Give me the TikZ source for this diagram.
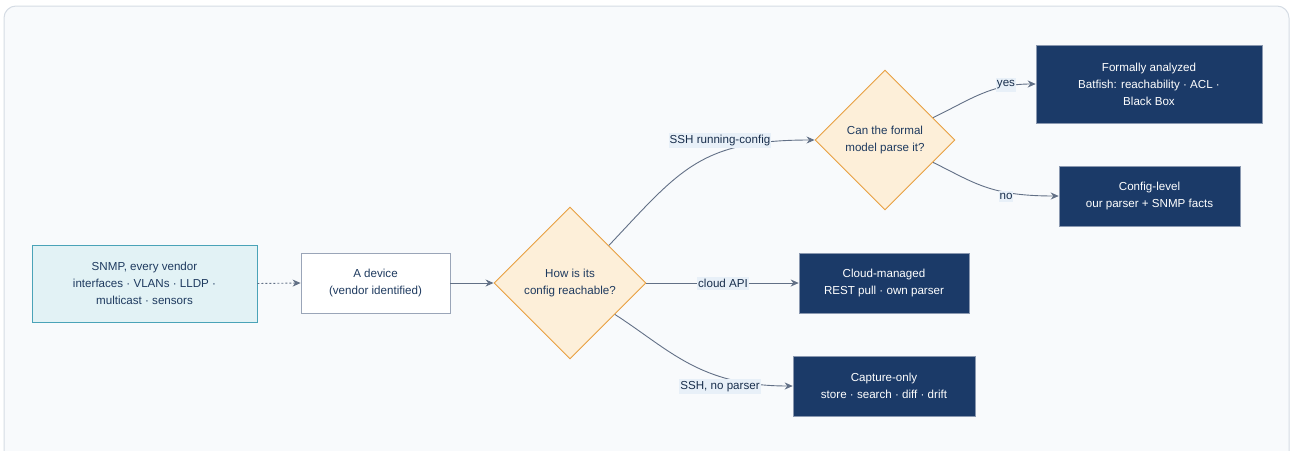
\documentclass[tikz,border=0pt]{standalone}
\usepackage{fontspec}
\setmainfont{Liberation Sans}
\usetikzlibrary{shapes.geometric,arrows.meta}
\definecolor{framefill}{HTML}{F8FAFC}
\definecolor{frameline}{HTML}{D5DCE4}
\definecolor{snmpfill}{HTML}{E2F2F5}
\definecolor{snmpline}{HTML}{4AA3B8}
\definecolor{devline}{HTML}{9AA5B8}
\definecolor{diafill}{HTML}{FDEFD9}
\definecolor{dialine}{HTML}{E8A040}
\definecolor{darkfill}{HTML}{1B3A68}
\definecolor{darkline}{HTML}{8A98B0}
\definecolor{edgecol}{HTML}{627086}
\definecolor{lblbg}{HTML}{E8F0F8}
\definecolor{txtdark}{HTML}{1E3A5F}
\tikzset{
  base/.style={align=center, inner sep=0pt, font=\fontsize{11.6}{17}\selectfont},
  lightbox/.style={base, rectangle, draw=devline, fill=white, text=txtdark, line width=0.8pt},
  snmpbox/.style={base, rectangle, draw=snmpline, fill=snmpfill, text=txtdark, line width=0.9pt},
  darkbox/.style={base, rectangle, draw=darkline, fill=darkfill, text=white, line width=0.6pt},
  decision/.style={base, diamond, aspect=1, draw=dialine, fill=diafill, text=txtdark, line width=0.9pt},
  conn/.style={draw=edgecol, line width=0.9pt, -{Stealth[length=8pt,width=7pt]}},
  lbl/.style={base, fill=lblbg, text=txtdark!80!black, inner xsep=1pt, inner ysep=2.5pt},
}
\begin{document}
\begin{tikzpicture}[x=1pt,y=-1pt]
\useasboundingbox (0,0) rectangle (1290,450);
\begin{scope}
\clip (0,0) rectangle (1290,450);
\draw[draw=frameline, fill=framefill, line width=1pt, rounded corners=12pt] (4,6) rectangle (1289,470);
\end{scope}

\node[snmpbox, minimum width=225pt, minimum height=77pt] (snmp) at (144.5,283.5) {SNMP, every vendor\\interfaces · VLANs · LLDP ·\\multicast · sensors};
\node[lightbox, minimum width=149pt, minimum height=60pt] (dev) at (375.5,283) {A device\\(vendor identified)};
\node[decision, minimum width=152pt, minimum height=152pt] (d1) at (570,283) {How is its\\config reachable?};
\node[decision, minimum width=140pt, minimum height=140pt] (d2) at (885,140) {Can the formal\\model parse it?};
\node[darkbox, minimum width=226pt, minimum height=78pt] (fa) at (1149,84) {Formally analyzed\\Batfish: reachability · ACL ·\\Black Box};
\node[darkbox, minimum width=181pt, minimum height=60pt] (cl) at (1149.5,196) {Config-level\\our parser + SNMP facts};
\node[darkbox, minimum width=170pt, minimum height=60pt] (cm) at (884,283) {Cloud-managed\\REST pull · own parser};
\node[darkbox, minimum width=182pt, minimum height=60pt] (co) at (884,386) {Capture-only\\store · search · diff · drift};

\draw[conn, dash pattern=on 2pt off 2pt] (snmp.east) -- (dev.west);
\draw[conn] (dev.east) -- (d1.west);
\draw[conn] (d1.44) .. controls (680,170) and (700,140) .. (d2.west);
\draw[conn] (d1.east) -- (cm.west);
\draw[conn] (d1.-35) .. controls (670,350) and (700,386) .. (co.west);
\draw[conn] (d2.25) .. controls (970,100) and (990,84) .. (fa.west);
\draw[conn] (d2.-25) .. controls (975,183) and (990,196) .. (cl.west);

\node[lbl] (l1) at (720,140.5) {SSH running-config};
\node[lbl] (l2) at (723,283.5) {cloud API};
\node[lbl] (l3) at (720,386.5) {SSH, no parser};
\node[lbl] (l4) at (1006,85) {yes};
\node[lbl] (l5) at (1006,196.5) {no};
\end{tikzpicture}
\end{document}
